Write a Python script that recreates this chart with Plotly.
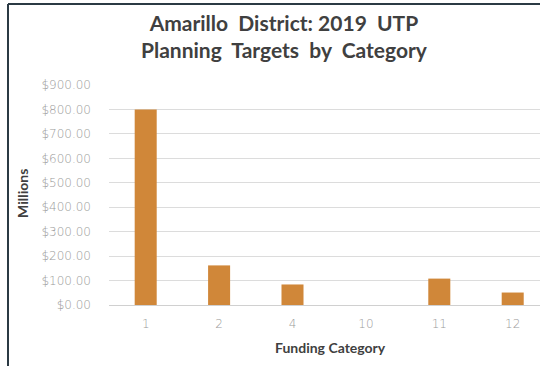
import plotly.graph_objects as go

categories = ["1", "2", "4", "10", "11", "12"]
targets_millions = [800, 162, 84, 0, 108, 51]
y_tick_values = [0, 100, 200, 300, 400, 500, 600, 700, 800, 900]
y_tick_labels = ["$%.2f" % v for v in y_tick_values]

W, H = 540, 366
L, R, T, B = 109, 0, 85, 61
PW = W - L - R
PH = H - T - B

def px(x):
    return (x - L) / PW

def py(y):
    return (H - B - y) / PH

tick_font = dict(family="DejaVu Sans", size=12, color="#9a9a9a", weight=200)

fig = go.Figure(
    go.Bar(
        x=categories,
        y=targets_millions,
        marker=dict(color="#D08739", line=dict(width=0)),
        width=0.3,
    )
)

fig.update_layout(
    width=W,
    height=H,
    margin=dict(l=L, r=R, t=T, b=B, pad=0),
    paper_bgcolor="white",
    plot_bgcolor="white",
    showlegend=False,
    font=dict(family="Lato", color="#8a8a8a"),
)

fig.update_xaxes(
    type="category",
    range=[-0.5, -0.5 + PW / 73.4],
    showgrid=False,
    showline=False,
    zeroline=False,
    tickfont=tick_font,
    ticklabelstandoff=10,
)

fig.update_yaxes(
    range=[0, 900],
    tickvals=y_tick_values,
    ticktext=y_tick_labels,
    showgrid=True,
    gridcolor="#dcdcdc",
    gridwidth=1,
    zeroline=True,
    zerolinecolor="#d0d0d0",
    zerolinewidth=1,
    showline=False,
    tickfont=tick_font,
    ticklabelstandoff=17,
)

annotations = [
    dict(text="<b>Amarillo  District: 2019  UTP<br>Planning  Targets  by  Category</b>",
         x=px(284), y=py(36), xref="paper", yref="paper",
         xanchor="center", yanchor="middle", showarrow=False,
         font=dict(family="Lato", size=21, color="#404040"), align="center"),
    dict(text="<b>Millions</b>", x=px(22), y=py(194), xref="paper", yref="paper",
         xanchor="center", yanchor="middle", showarrow=False, textangle=-90,
         font=dict(family="Lato", size=14, color="#404040")),
    dict(text="<b>Funding Category</b>", x=px(330), y=py(347), xref="paper", yref="paper",
         xanchor="center", yanchor="middle", showarrow=False,
         font=dict(family="Lato", size=14, color="#404040")),
]
fig.update_layout(annotations=annotations)

fig.update_layout(shapes=[
    dict(type="line", xref="paper", yref="paper", x0=px(8), x1=px(540), y0=py(4), y1=py(4),
         line=dict(color="#2b3a44", width=2)),
    dict(type="line", xref="paper", yref="paper", x0=px(8), x1=px(8), y0=py(4), y1=py(366),
         line=dict(color="#2b3a44", width=2)),
])

fig.write_html("out.html")
